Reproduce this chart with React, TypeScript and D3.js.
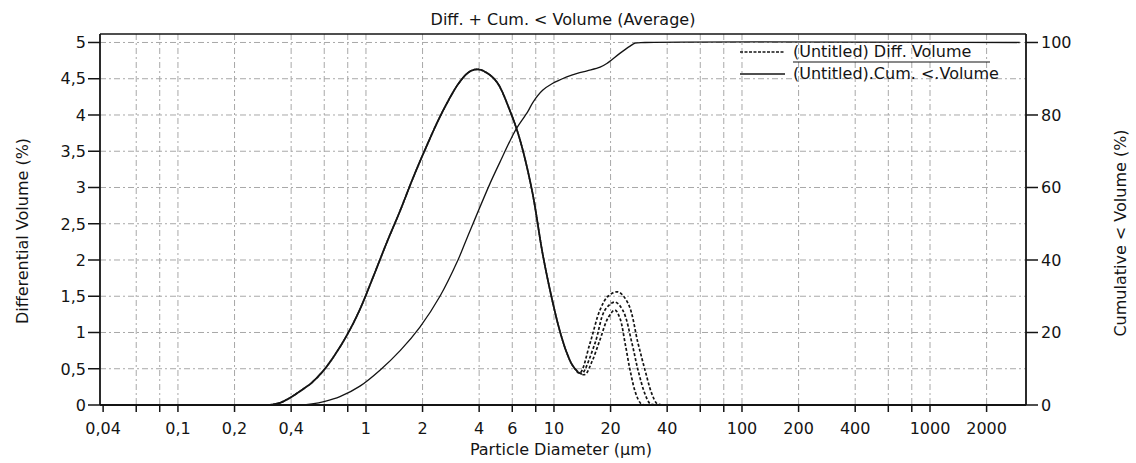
import React from "react";
import * as d3 from "d3";

// ---------- data ----------
const title = "Diff. + Cum. < Volume (Average)";
const xLabel = "Particle Diameter (µm)";
const yLabelLeft = "Differential Volume (%)";
const yLabelRight = "Cumulative < Volume (%)";
const legendLabels = ["(Untitled) Diff. Volume", "(Untitled).Cum. <.Volume"];

const xTickValues = [0.04, 0.06, 0.08, 0.1, 0.2, 0.4, 0.6, 0.8, 1, 2, 4, 6, 8, 10, 20, 40, 60, 80, 100, 200, 400, 600, 800, 1000, 2000];
const xTickLabels: Record<string, string> = {
  "0.04": "0,04", "0.1": "0,1", "0.2": "0,2", "0.4": "0,4", "1": "1", "2": "2", "4": "4", "6": "6",
  "10": "10", "20": "20", "40": "40", "100": "100", "200": "200", "400": "400", "1000": "1000", "2000": "2000",
};
const yLeftTicks = [0, 0.5, 1, 1.5, 2, 2.5, 3, 3.5, 4, 4.5, 5];
const yRightTicks = [0, 20, 40, 60, 80, 100];

// shared part of the differential curve (µm, %)
const diffSizesCommon = [0.25, 0.301, 0.349, 0.389, 0.446, 0.516, 0.605, 0.727, 0.822, 0.929, 1.09, 1.29, 1.52, 1.76, 2.06, 2.57, 3.16, 3.57, 3.94, 4.4, 4.98, 5.83, 6.59, 7.64, 8.74, 9.88, 10.8, 11.7, 12.6, 13.7];
const diffValuesCommon = [0, 0, 0.03, 0.09, 0.19, 0.31, 0.5, 0.8, 1.04, 1.32, 1.76, 2.24, 2.68, 3.1, 3.52, 4.06, 4.46, 4.6, 4.63, 4.58, 4.45, 4.06, 3.66, 2.96, 2.06, 1.4, 1.0, 0.72, 0.54, 0.44];

// second-mode part of the three runs
const peakSizesRun1 = [15.54, 17.57, 19.38, 21.9, 24.8, 28.0, 30.5, 33.2, 35.3, 37.5];
const peakValuesRun1 = [0.85, 1.31, 1.5, 1.56, 1.4, 0.85, 0.48, 0.15, 0.02, 0];
const peakSizesRun2 = [14.09, 16.52, 18.68, 21.1, 23.3, 26.0, 28.0, 30.5, 32.4, 34.4];
const peakValuesRun2 = [0.43, 0.85, 1.31, 1.42, 1.3, 0.85, 0.48, 0.15, 0.02, 0];
const peakSizesRun3 = [14.62, 15.93, 17.57, 19.38, 21.1, 22.4, 23.9, 25.4, 27.3, 29.0, 30.5];
const peakValuesRun3 = [0.42, 0.6, 0.9, 1.2, 1.31, 1.2, 0.85, 0.48, 0.15, 0.02, 0];

// cumulative curve (µm, %)
const cumSizes = [0.3, 0.446, 0.516, 0.605, 0.727, 0.929, 1.187, 1.52, 1.937, 2.475, 3.086, 3.445, 4.56, 5.16, 6.05, 6.36, 7.27, 7.73, 8.7, 9.76, 11.7, 13.3, 15.0, 17.6, 19.1, 22.4, 25.4, 27.0, 30.5, 3000];
const cumValues = [0, 0, 0.3, 1.0, 2.3, 5.2, 9.6, 15, 21.5, 30, 40, 46, 61, 67, 74.5, 76.5, 81, 83.5, 86.8, 88.6, 90.5, 91.5, 92.2, 93.2, 94.2, 97, 99, 99.8, 100, 100];

// ---------- layout ----------
const W = 1136;
const H = 463;
const left = 100;
const right = 1026;
const top = 34;
const bottom = 405;
const FONT = "'DejaVu Sans', Verdana, sans-serif";
const INK = "#141414";
const GRID = "#a8a8a8";

const x = d3.scaleLog().domain([0.0385, 3240]).range([left, right]);
const yL = d3.scaleLinear().domain([0, 5.117]).range([bottom, top]);
const yR = d3.scaleLinear().domain([0, 102.34]).range([bottom, top]);

type P = [number, number];
const zip = (a: number[], b: number[]): P[] => a.map((v, i) => [v, b[i]]);

const diffLine = d3
  .line<P>()
  .x((d) => x(d[0]))
  .y((d) => yL(d[1]))
  .curve(d3.curveCatmullRom.alpha(0.5));
const cumLine = d3
  .line<P>()
  .x((d) => x(d[0]))
  .y((d) => yR(d[1]))
  .curve(d3.curveCatmullRom.alpha(0.5));

const common = zip(diffSizesCommon, diffValuesCommon);
const runs: P[][] = [
  [...common, ...zip(peakSizesRun1, peakValuesRun1)],
  [...common, ...zip(peakSizesRun2, peakValuesRun2)],
  [...common, ...zip(peakSizesRun3, peakValuesRun3)],
];
const cum = zip(cumSizes, cumValues);

export default function App() {
  return (
    <svg
      width={W}
      height={H}
      viewBox={`0 0 ${W} ${H}`}
      style={{ position: "absolute", left: 0, top: 0, background: "#fff" }}
      fontFamily={FONT}
    >
      <rect x={0} y={0} width={W} height={H} fill="#fff" />

      {/* grid */}
      <g stroke={GRID} strokeWidth={1} strokeDasharray="6,3,2,3" fill="none">
        {yLeftTicks.slice(1).map((t) => (
          <line key={"gy" + t} x1={left} x2={right} y1={yL(t)} y2={yL(t)} />
        ))}
        {xTickValues.slice(1).map((t) => (
          <line key={"gx" + t} x1={x(t)} x2={x(t)} y1={top} y2={bottom} />
        ))}
      </g>

      {/* cumulative curve */}
      <path d={cumLine(cum) || ""} fill="none" stroke={INK} strokeWidth={1.3} />

      {/* differential runs */}
      {runs.map((r, i) => (
        <path
          key={"run" + i}
          d={diffLine(r) || ""}
          fill="none"
          stroke={INK}
          strokeWidth={1.7}
          strokeDasharray="3,2"
          strokeDashoffset={i * 1.7}
        />
      ))}

      {/* frame */}
      <g stroke={INK} fill="none">
        <line x1={left} x2={right} y1={top} y2={top} strokeWidth={1.5} />
        <line x1={left} x2={left} y1={top} y2={bottom} strokeWidth={1.8} />
        <line x1={right} x2={right} y1={top} y2={bottom} strokeWidth={1.8} />
        <line x1={left} x2={right} y1={bottom} y2={bottom} strokeWidth={2} />
      </g>

      {/* left axis */}
      <g fontSize={16} fill={INK} textAnchor="end">
        {yLeftTicks.map((t) => (
          <g key={"yl" + t}>
            <line x1={left - 12} x2={left} y1={yL(t)} y2={yL(t)} stroke={INK} strokeWidth={1.5} />
            <text x={left - 14} y={yL(t)} dy="0.36em">
              {String(t).replace(".", ",")}
            </text>
          </g>
        ))}
      </g>

      {/* right axis */}
      <g fontSize={16} fill={INK} textAnchor="start">
        {yRightTicks.map((t) => (
          <g key={"yr" + t}>
            <line x1={right} x2={right + 12} y1={yR(t)} y2={yR(t)} stroke={INK} strokeWidth={1.5} />
            <text x={right + 15} y={yR(t)} dy="0.36em">
              {t}
            </text>
          </g>
        ))}
      </g>

      {/* bottom axis */}
      <g fontSize={16} fill={INK} textAnchor="middle">
        {xTickValues.map((t) => (
          <g key={"xt" + t}>
            <line x1={x(t)} x2={x(t)} y1={bottom} y2={bottom + 7} stroke={INK} strokeWidth={1.5} />
            {xTickLabels[String(t)] && (
              <text x={x(t)} y={bottom + 29}>
                {xTickLabels[String(t)]}
              </text>
            )}
          </g>
        ))}
      </g>

      {/* titles */}
      <text x={563} y={25} fontSize={16} textAnchor="middle" fill={INK}>
        {title}
      </text>
      <text x={561} y={455} fontSize={16} textAnchor="middle" fill={INK}>
        {xLabel}
      </text>
      <text
        transform={`translate(28,231) rotate(-90)`}
        fontSize={16}
        textAnchor="middle"
        fill={INK}
      >
        {yLabelLeft}
      </text>
      <text
        transform={`translate(1126,233) rotate(-90)`}
        fontSize={16}
        textAnchor="middle"
        fill={INK}
      >
        {yLabelRight}
      </text>

      {/* legend */}
      <g fontSize={16} fill={INK}>
        <line x1={740} x2={785} y1={52} y2={52} stroke={INK} strokeWidth={1.5} strokeDasharray="3,1.5" />
        <text x={793} y={57}>{legendLabels[0]}</text>
        <line x1={793} x2={990} y1={62} y2={62} stroke={INK} strokeWidth={1.2} />
        <line x1={740} x2={785} y1={74} y2={74} stroke={INK} strokeWidth={1.3} />
        <text x={793} y={79}>{legendLabels[1]}</text>
      </g>
    </svg>
  );
}
